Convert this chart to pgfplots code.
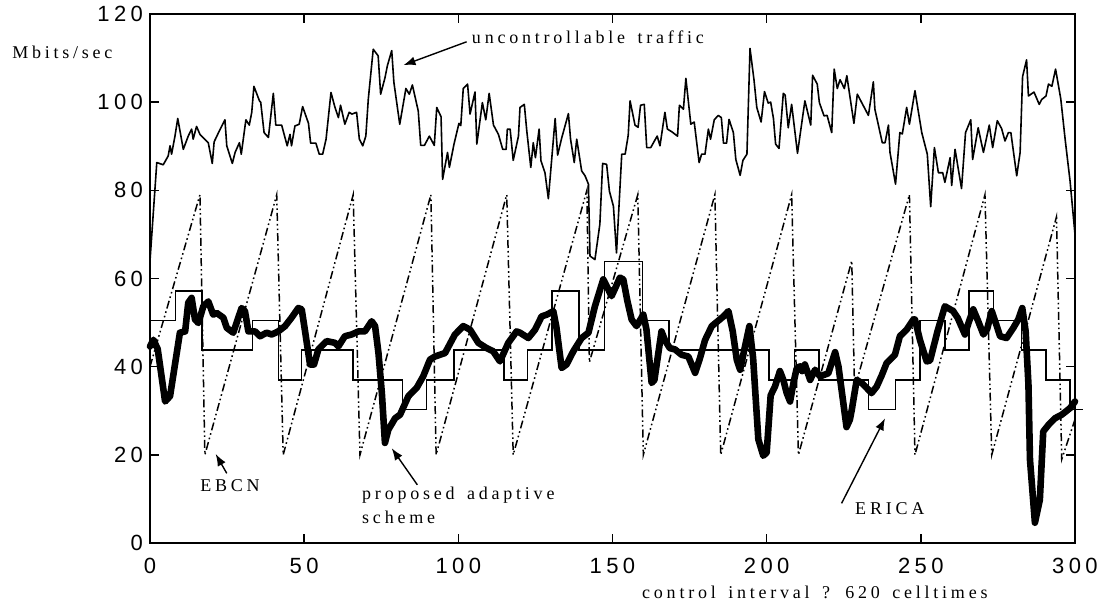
\documentclass[border=0pt]{standalone}
\usepackage{pgfplots}
\pgfplotsset{compat=1.18}
\usepackage{fontspec}
\usetikzlibrary{arrows.meta}
\newfontfamily\tickfont[LetterSpace=20]{Liberation Sans}
\newfontfamily\labfont[LetterSpace=21,WordSpace=1.5]{Liberation Serif}

\begin{document}
\begin{tikzpicture}
\begin{axis}[
  name=main,
  scale only axis,
  width=462.5pt, height=264.5pt,
  xmin=0, xmax=300, ymin=0, ymax=120,
  xtick={0,50,...,300}, ytick={0,20,...,120},
  tick align=inside,
  major tick length=4.5pt,
  axis line style={line width=1.1pt},
  every tick/.style={line width=0.8pt, black},
  tick label style={font=\fontsize{11}{13}\tickfont},
  xticklabel style={yshift=-4pt},
  /pgf/number format/assume math mode=true,
  clip=false,
]
% uncontrollable traffic
\addplot[black, line width=0.8pt, line join=round] coordinates {
(0,64) (2.2,86.3) (4.3,85.8) (5.9,87.8) (6.5,90.1) (7,88.2) (8.1,92.3) (9,96.3)
(10.8,89.3) (12.4,92.3) (13.5,93.9) (14,91.6) (15.1,94.5) (16.2,92.7) (18.9,90.8)
(20.2,86.1) (20.8,91) (22.5,93.5) (24.3,96) (24.9,90.1) (26.7,86.1) (27.6,88.6)
(29,90.8) (29.6,88.2) (31.1,96) (32.2,94.8) (33,97.7) (33.7,103.6) (35.5,100.3)
(35.9,100) (37,93.1) (38.4,92) (40,102) (40.8,94.8) (42.7,94.8) (44.5,90.1)
(45.4,92.7) (45.9,90.1) (47,94.6) (48.4,95) (49.5,99) (51.4,95.2) (52.1,90.7)
(53.8,90.7) (54.9,88.2) (56,88.2) (57.1,91.6) (58.7,102.2) (60,98.8) (61.1,96.5)
(61.8,99.3) (63.2,95) (64.6,97.7) (65.5,97.3) (67,97.7) (67.9,91.6) (69,90.1)
(70,92.3) (70.8,100.7) (72.4,112) (74,110.5) (74.8,101.8) (76.2,105.5) (77,108.3)
(78.4,111.7) (79.1,104.5) (81,95) (83,103.1) (84.1,101.8) (85.1,103.9) (87,98)
(87.8,90.2) (89,90.2) (90.6,92.3) (92.2,90.2) (93,98.8) (94.4,96.7) (94.9,82.5)
(96.5,88.6) (97.1,85.2) (98.6,90.5) (100.2,95.2) (100.8,94.7) (101.6,103.1)
(103,104.1) (103.8,97.3) (105.4,102.3) (106,90.5) (107.8,99.9) (108.9,96)
(110,102) (111.4,94.8) (113,92.7) (114.4,89.3) (115.5,89.3) (115.9,93.9)
(116.8,93.9) (117.8,86.8) (119.5,92.3) (120,98.8) (121.4,99.5) (122.2,93.5)
(123.5,85.2) (124.3,90.8) (125,87.4) (126.2,93.9) (126.8,86.7) (128.1,84)
(129.2,78.1) (131.4,96.3) (132.2,88) (133.5,91.8) (135.7,97.4) (136.4,91.6)
(137.6,86.3) (138.4,91.6) (140,84.4) (141.1,83.3) (142.2,81.4) (142.7,65.1)
(144.3,64.3) (145.9,72.3) (146.8,86.1) (148.1,85.9) (149,79.8) (150.3,76.4)
(151.3,65.8) (153,88.2) (154.1,88.2) (155.1,92.5) (155.7,100.3) (157.3,94.8)
(158.3,94.3) (159.1,99.3) (160.3,99.5) (161.1,89.7) (162.4,89.7) (163.6,91.2)
(164.5,92.3) (165.4,90.1) (167,97.7) (167.8,93.9) (169.2,93.3) (171.1,92.3)
(171.7,99.3) (173,98.4) (173.8,105.4) (175.4,95) (176.5,95.5) (178.1,86.3)
(178.9,88.2) (180,88.2) (181.1,93.9) (181.8,91.6) (183,96) (184.3,97) (185.3,96.5)
(186,90.7) (187,90.7) (187.8,96.1) (189.2,93.1) (190,87) (191.4,83.4) (192.3,86.8)
(193.6,88.2) (194.6,112.2) (195.9,105) (196.8,98.8) (198.2,95.5) (199.3,102.4)
(200.5,99.8) (201.3,100) (202.2,96.3) (202.9,90.5) (204,89.5) (205.4,102)
(206,101.6) (207,94.2) (208.1,99.5) (210,88.4) (212.4,100.3) (214.3,94.8)
(214.9,106.1) (216.4,104.1) (217.1,99.9) (218.6,96.9) (219.6,97) (221.1,93.1)
(221.9,107.5) (222.9,103.1) (223.8,105.1) (225.2,103.1) (226,106) (228.3,95.2)
(229.4,101.8) (233,97) (234.6,104.6) (235.1,98.4) (237.5,90.8) (238.4,90.8)
(239.5,94.8) (240,88.6) (241.8,81.4) (243.2,93.1) (244,92.8) (245.4,98.8)
(246.3,95) (248.1,102.6) (250.3,93.1) (252.1,88.2) (253.2,76.3) (254.4,89.7)
(255.7,84) (257.1,84) (257.8,81.8) (259.5,87.4) (260,81.1) (261.1,89.3)
(263.2,80.4) (264.5,93.1) (266.2,96) (266.8,87) (268.6,94.2) (270.3,88.6)
(272.2,94.8) (273.3,89.7) (274.8,95.8) (276.2,94) (277.3,91.2) (278.4,93.1)
(279.2,93.1) (281.1,83.3) (282.2,88.6) (283,105.8) (284.3,109.6) (284.9,101.4)
(286.7,102.3) (288.4,99.5) (289.2,100.6) (290.6,101.4) (291.4,104.1) (292.5,103.6)
(293.7,107.5) (295.4,100.7) (296.8,91.6) (298.4,82.1) (300,70)
};
% EBCN
\addplot[black, line width=0.75pt,
  dash pattern=on 4pt off 1.5pt on 0.8pt off 1.5pt on 0.8pt off 1.5pt] coordinates {
(0,40) (16.2,79) (17.8,20) (41.1,79) (43.2,20) (65.9,79) (68.1,20) (91.1,79)
(92.8,20) (115.7,79) (117.8,20) (141.7,80) (142.5,41) (158.2,79) (160,20)
(183.2,79) (185.1,20) (208.1,79) (210.3,20) (227.6,64) (228.5,35) (246.3,79)
(248.1,20) (270.8,79) (273,20) (294,74) (295.7,19) (300,28)
};
% ERICA
\addplot[black, line width=0.75pt, const plot] coordinates {
(0,50.5) (8.3,57.2) (16.8,43.8) (33.2,50.5) (41.6,37) (49.2,43.8) (65.9,37)
(81.9,30.3) (89.7,37) (98.6,43.8) (114.8,37) (122.5,43.8) (130.3,57.2)
(139.1,43.8) (147.4,63.9) (159.8,50.5) (168.3,43.8) (200.7,37) (209.1,43.8)
(216.9,37) (233,30.3) (241.8,37) (249.7,50.5) (257.8,43.8) (265.7,57.2)
(273.5,50.5) (282.7,43.8) (290.6,37) (298.4,30.3) (302.7,30.3)
};
% proposed adaptive scheme
\addplot[black, line width=3.3pt, line join=round, line cap=round] coordinates {
(0,44.6) (1.1,46.1) (2.5,44) (4.9,32.1) (6.5,33.3) (9.7,47.7) (11.4,48)
(12.4,54.5) (13.5,55.6) (14.6,50.7) (15.7,49.9) (17.3,53.7) (18.9,54.8)
(20.5,51.8) (21.6,52.2) (23.8,51.1) (24.9,48.8) (27,47.7) (29.7,53.3) (30.8,52.6)
(31.9,48) (34.1,48) (35.7,46.9) (37.8,47.7) (39.5,47.3) (41.6,48) (43.8,49.2)
(45.9,51.1) (48.1,53.3) (49.2,53) (50.3,48) (51.9,40.5) (53.2,40.5) (54.6,43.9)
(57.3,45.8) (60,45.4) (61.1,44.6) (63.2,46.9) (65.4,47.3) (67.6,48) (69.7,48)
(71.9,50.3) (73,49.2) (74.1,43.1) (75.2,34) (76.2,22.7) (77.3,25.7) (79.5,28.3)
(81.1,29.1) (83.8,33.3) (86.5,35.2) (88.6,37.8) (90.8,41.6) (92.4,42.3)
(95.7,43.1) (98.9,47.3) (101.6,49.2) (103.8,48.4) (106.5,45.4) (109.2,44.2)
(111.3,43.5) (113.5,41.2) (116.2,45.4) (118.9,48) (120,47.7) (122.7,46.5)
(124.9,48.4) (127,51.4) (128.7,51.8) (130.8,52.6) (131.8,49) (133.5,39.7)
(135.1,40.5) (137.3,43.5) (140,46.5) (142.2,47.7) (144.3,53.7) (147,59.8)
(148.3,58) (149.7,56) (151,58) (152.4,60.2) (153.5,59.8) (154.8,55) (156.2,50.7)
(157.8,49.2) (160,51.8) (161,48.5) (162.7,36.3) (163.6,37) (165.9,48) (167,46)
(168.6,44.2) (170.3,43.9) (172.4,42.7) (174.6,42.3) (176.8,38.6) (178.4,42)
(180,46) (182.2,49.2) (186,51.4) (187.6,52.6) (189,48) (190.3,41.6) (191.4,39.3)
(192.8,44) (194.4,49.2) (195.6,42) (197.3,23.5) (198.9,19.8) (200,20.5)
(201.3,33.5) (202.7,35.5) (204.3,39) (205.4,37) (206.5,34) (207.6,32.1)
(208.6,36) (209.7,39.5) (210.8,40.1) (211.5,39) (212.4,40.5) (214.1,37)
(215.7,39.3) (217.3,37.8) (220,38.5) (222.2,43.3) (223.3,40) (225.9,26.3)
(227,28) (227.6,30.2) (229.2,37) (230.8,36.3) (232,35.5) (234,34) (235.7,35.5)
(237.3,38) (238.9,40.8) (241.6,42.7) (243.2,46.9) (245.4,48.4) (247.6,50.7)
(248.1,50.7) (249.7,46.1) (251.9,41.2) (253,41.4) (255.4,48) (257.8,53.7)
(260.5,52.6) (262,51) (264.3,47.3) (265.5,50) (267,53) (268.5,50.5) (270.3,47.3)
(271.5,48.5) (273,52.6) (274.5,49.5) (275.7,46.9) (277.8,46.5) (280,48.8)
(281.6,50.7) (282.9,53.3) (284,48) (284.9,36) (285.4,18.9) (287,4.6) (288.6,9.8)
(289.7,25.3) (291.4,26.8) (293.5,28.3) (295.7,29.1) (298.4,30.6) (300,32.1)
};
% annotations
\begin{scope}[every node/.style={font=\fontsize{9}{10.5}\labfont, inner sep=0pt}]
\node[anchor=base west] at (axis cs:-44.8,109.8) {Mbits/sec};
\node[anchor=base west] at (axis cs:104.3,113.2) {uncontrollable traffic};
\node[anchor=base west] at (axis cs:16.2,11.7) {EBCN};
\node[anchor=base west] at (axis cs:68.7,9.9) {proposed adaptive};
\node[anchor=base west] at (axis cs:68.7,4.5) {scheme};
\node[anchor=base west] at (axis cs:228.6,6.4) {ERICA};
\node[anchor=base west] at (axis cs:159.5,-12.6) {control interval ? 620 celltimes};
\end{scope}
\begin{scope}[line width=0.7pt, -{Latex[length=6pt,width=4.5pt]}]
\draw (axis cs:102.7,113.7) -- (axis cs:82.2,108.4);
\draw (axis cs:24.9,15.8) -- (axis cs:21.3,20.2);
\draw (axis cs:86.7,13.2) -- (axis cs:78.4,21.5);
\draw (axis cs:224.3,9) -- (axis cs:238.4,28.3);
\end{scope}
\end{axis}
\pgfresetboundingbox
\path ([shift={(-75pt,-32pt)}]main.south west) rectangle ([shift={(477pt,271.5pt)}]main.south west);
\end{tikzpicture}
\end{document}
